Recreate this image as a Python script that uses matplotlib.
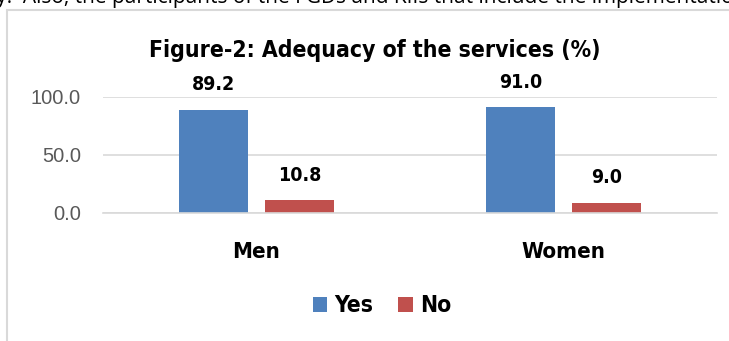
import matplotlib.pyplot as plt
from matplotlib.patches import Rectangle
import numpy as np

groups = ['Men', 'Women']
yes_vals = [89.2, 91.0]
no_vals = [10.8, 9.0]
y_ticks = [0, 50, 100]

BLUE = '#4f81bd'
RED = '#c0504d'
narrow = dict(family=['DejaVu Sans'], stretch='condensed', weight='bold')
plain = ['Liberation Sans', 'DejaVu Sans']

fig = plt.figure(figsize=(7.29, 3.41), dpi=100)

# cropped line of body text above the chart
fig.text(-0.012, 1.006, 'ly.  Also, the participants of the FGDs and KIIs that include the implementation',
         fontsize=15, family=['Open Sans', 'DejaVu Sans'], va='center', ha='left', color='black')

# chart frame
fig.patches.append(Rectangle((7 / 729, -0.1), 1.1, 0.1 + (341 - 10) / 341, transform=fig.transFigure,
                             fill=False, edgecolor='#d9d9d9', lw=1.5))

ax = fig.add_axes([103 / 729, (341 - 213) / 341, 614 / 729, 116 / 341])
x = np.arange(len(groups))
w = 0.222
b1 = ax.bar(x - 0.14, yes_vals, w, color=BLUE, label='Yes')
b2 = ax.bar(x + 0.14, no_vals, w, color=RED, label='No')

for bars, vals in [(b1, yes_vals), (b2, no_vals)]:
    for rect, v in zip(bars, vals):
        ax.annotate(f'{v:.1f}', xy=(rect.get_x() + rect.get_width() / 2, v), xytext=(0, 11),
                    textcoords='offset points', ha='center', va='bottom', fontsize=14,
                    clip_on=False, **narrow)

ax.set_xlim(-0.5, 1.5)
ax.set_ylim(0, 100)
ax.set_yticks(y_ticks)
ax.set_yticklabels([f'{t:.1f}' for t in y_ticks], fontsize=14.5, color='#595959', family=plain)
ax.set_xticks(x)
ax.set_xticklabels(groups)
for lbl in ax.get_xticklabels():
    lbl.set_fontproperties(dict(size=16, **narrow))
ax.tick_params(axis='both', length=0)
ax.tick_params(axis='y', pad=16)
ax.tick_params(axis='x', pad=21)
ax.grid(axis='y', color='#d9d9d9', lw=1.2)
ax.set_axisbelow(True)
for s in ['top', 'right', 'left']:
    ax.spines[s].set_visible(False)
ax.spines['bottom'].set_color('#d9d9d9')
ax.spines['bottom'].set_linewidth(1.2)

fig.text(375 / 729, 1 - 50 / 341, 'Figure-2: Adequacy of the services (%)', ha='center', va='center',
         fontsize=16.5, **narrow)

fig.legend(handles=[b1, b2], loc='center', bbox_to_anchor=(382 / 729, 1 - 306 / 341), ncol=2,
           frameon=False, prop=dict(size=16.5, **narrow),
           handlelength=0.65, handleheight=0.65, handletextpad=0.3, columnspacing=1.1)

fig.savefig('out.png', dpi=100)
